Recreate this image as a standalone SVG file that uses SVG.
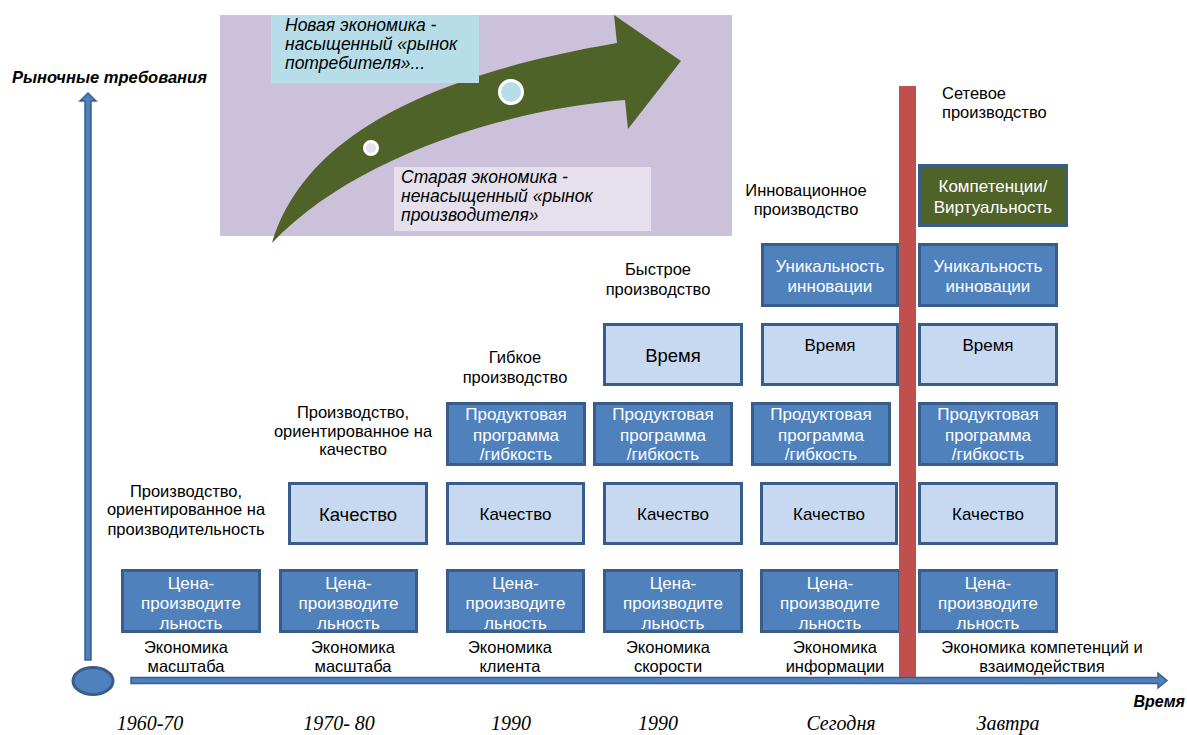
<svg xmlns="http://www.w3.org/2000/svg" width="1187" height="735" viewBox="0 0 1187 735">
<defs>
<style>
.dk{fill:#4f81bd;stroke:#385d8a;stroke-width:3}
.lt{fill:#c6d9f1;stroke:#385d8a;stroke-width:3}
.gr{fill:#4f6228;stroke:#385d8a;stroke-width:3}
text{font-family:"Liberation Sans",Arial,sans-serif}
.w{fill:#fff;font-size:17px;text-anchor:middle}
.b{fill:#000;font-size:17px;text-anchor:middle}
.big{font-size:18.5px}
.l{fill:#000;font-size:16.5px;text-anchor:middle}
.yr{font-family:"Liberation Serif","Times New Roman",serif;font-style:italic;font-size:20px;text-anchor:middle;fill:#000}
.it{font-style:italic;font-size:17.5px;fill:#000}
.ax{fill:#4f81bd;stroke:#385d8a;stroke-width:1.5}
</style>
</defs>
<rect width="1187" height="735" fill="#fff"/>

<g id="economy-panel">
<rect x="220" y="15" width="512" height="221" fill="#ccc1da"/>
<path d="M272,243 C300,150 400,80 617,43 L614,15 L681,61 L628,129 L625,100 C500,110 350,160 272,243 Z" fill="#4f6228"/>
<circle cx="511" cy="92" r="11.5" fill="#b7dde8" stroke="#fff" stroke-width="3"/>
<circle cx="371" cy="148" r="6.5" fill="#e5e0ec" stroke="#fff" stroke-width="3"/>
<rect x="271" y="15" width="208" height="68" fill="#b7dee8"/>
<text class="it" x="285" y="31">Новая экономика -</text>
<text class="it" x="285" y="50">насыщенный «рынок</text>
<text class="it" x="285" y="69">потребителя»...</text>
<rect x="394" y="167" width="257" height="64" fill="#e5e0ec"/>
<text class="it" x="401" y="183">Старая экономика -</text>
<text class="it" x="401" y="202">ненасыщенный «рынок</text>
<text class="it" x="401" y="221">производителя»</text>
</g>

<g id="axis-labels">
<text x="12" y="83" style="font-weight:bold;font-style:italic;font-size:16.5px">Рыночные требования</text>
<text x="1185" y="707" style="font-weight:bold;font-style:italic;font-size:16px;text-anchor:end">Время</text>
</g>

<g id="stage-labels">
<text class="l" x="186" y="497">Производство,</text>
<text class="l" x="186" y="515">ориентированное на</text>
<text class="l" x="186" y="535">производительность</text>
<text class="l" x="353" y="418">Производство,</text>
<text class="l" x="353" y="437">ориентированное на</text>
<text class="l" x="353" y="455">качество</text>
<text class="l" x="515" y="363">Гибкое</text>
<text class="l" x="515" y="383">производство</text>
<text class="l" x="658" y="275">Быстрое</text>
<text class="l" x="658" y="295">производство</text>
<text class="l" x="806" y="196">Инновационное</text>
<text class="l" x="806" y="215">производство</text>
<text class="l" x="942" y="99" style="text-anchor:start">Сетевое</text>
<text class="l" x="942" y="118" style="text-anchor:start">производство</text>
</g>

<g id="col1">
<rect class="dk" x="122.5" y="570.5" width="137" height="61"/>
<text class="w" x="191" y="589">Цена-</text>
<text class="w" x="191" y="609">производите</text>
<text class="w" x="191" y="629">льность</text>
</g>

<g id="col2">
<rect class="lt" x="289.5" y="483.5" width="137" height="60"/>
<text class="b big" x="358" y="521">Качество</text>
<rect class="dk" x="280.5" y="570.5" width="136" height="61"/>
<text class="w" x="348.5" y="589">Цена-</text>
<text class="w" x="348.5" y="609">производите</text>
<text class="w" x="348.5" y="629">льность</text>
</g>

<g id="col3">
<rect class="dk" x="447.5" y="403.5" width="137" height="61"/>
<text class="w" x="516" y="420">Продуктовая</text>
<text class="w" x="516" y="441">программа</text>
<text class="w" x="516" y="460">/гибкость</text>
<rect class="lt" x="447.5" y="483.5" width="136" height="60"/>
<text class="b" x="515.5" y="520">Качество</text>
<rect class="dk" x="447.5" y="570.5" width="136" height="61"/>
<text class="w" x="515.5" y="589">Цена-</text>
<text class="w" x="515.5" y="609">производите</text>
<text class="w" x="515.5" y="629">льность</text>
</g>

<g id="col4">
<rect class="lt" x="604.5" y="324.5" width="137" height="60"/>
<text class="b big" x="673" y="362">Время</text>
<rect class="dk" x="594.5" y="403.5" width="137" height="61"/>
<text class="w" x="663" y="420">Продуктовая</text>
<text class="w" x="663" y="441">программа</text>
<text class="w" x="663" y="460">/гибкость</text>
<rect class="lt" x="604.5" y="483.5" width="137" height="60"/>
<text class="b" x="673" y="520">Качество</text>
<rect class="dk" x="604.5" y="570.5" width="137" height="61"/>
<text class="w" x="673" y="589">Цена-</text>
<text class="w" x="673" y="609">производите</text>
<text class="w" x="673" y="629">льность</text>
</g>

<g id="col5">
<rect class="dk" x="762.5" y="244.5" width="135" height="61"/>
<text class="w" x="830" y="272">Уникальность</text>
<text class="w" x="830" y="292">инновации</text>
<rect class="lt" x="762.5" y="324.5" width="135" height="60"/>
<text class="b" x="830" y="351">Время</text>
<rect class="dk" x="752.5" y="403.5" width="137" height="61"/>
<text class="w" x="821" y="420">Продуктовая</text>
<text class="w" x="821" y="441">программа</text>
<text class="w" x="821" y="460">/гибкость</text>
<rect class="lt" x="761.5" y="483.5" width="135" height="60"/>
<text class="b" x="829" y="520">Качество</text>
<rect class="dk" x="761.5" y="570.5" width="138" height="61"/>
<text class="w" x="830" y="589">Цена-</text>
<text class="w" x="830" y="609">производите</text>
<text class="w" x="830" y="629">льность</text>
</g>

<g id="col6">
<rect class="gr" x="919.5" y="165.5" width="147" height="60"/>
<text class="w" x="993" y="192">Компетенции/</text>
<text class="w" x="993" y="213">Виртуальность</text>
<rect class="dk" x="919.5" y="244.5" width="137" height="61"/>
<text class="w" x="988" y="272">Уникальность</text>
<text class="w" x="988" y="292">инновации</text>
<rect class="lt" x="919.5" y="324.5" width="137" height="60"/>
<text class="b" x="988" y="351">Время</text>
<rect class="dk" x="919.5" y="403.5" width="137" height="61"/>
<text class="w" x="988" y="420">Продуктовая</text>
<text class="w" x="988" y="441">программа</text>
<text class="w" x="988" y="460">/гибкость</text>
<rect class="lt" x="919.5" y="483.5" width="137" height="60"/>
<text class="b" x="988" y="520">Качество</text>
<rect class="dk" x="919.5" y="570.5" width="137" height="61"/>
<text class="w" x="988" y="589">Цена-</text>
<text class="w" x="988" y="609">производите</text>
<text class="w" x="988" y="629">льность</text>
</g>

<g id="today-line">
<rect x="899" y="86" width="17" height="592" fill="#c0504d"/>
</g>

<g id="economy-labels">
<text class="l" x="186" y="653">Экономика</text>
<text class="l" x="186" y="672">масштаба</text>
<text class="l" x="353" y="653">Экономика</text>
<text class="l" x="353" y="672">масштаба</text>
<text class="l" x="510" y="653">Экономика</text>
<text class="l" x="510" y="672">клиента</text>
<text class="l" x="668" y="653">Экономика</text>
<text class="l" x="668" y="672">скорости</text>
<text class="l" x="835" y="653">Экономика</text>
<text class="l" x="835" y="672">информации</text>
<text class="l" x="1042" y="653">Экономика компетенций и</text>
<text class="l" x="1042" y="672">взаимодействия</text>
</g>

<g id="connectors">
<path class="ax" d="M85,660 L85,101 L80,101 L88,93 L96,101 L91,101 L91,660 Z"/>
<path class="ax" d="M131,677.5 L1158,677.5 L1158,673 L1167,680.5 L1158,688 L1158,683.5 L131,683.5 Z"/>
<ellipse cx="93" cy="681" rx="20" ry="13.5" fill="#4f81bd" stroke="#385d8a" stroke-width="3"/>
</g>

<g id="years">
<text class="yr" x="150" y="730">1960-70</text>
<text class="yr" x="339" y="730">1970- 80</text>
<text class="yr" x="511" y="730">1990</text>
<text class="yr" x="658" y="730">1990</text>
<text class="yr" x="841" y="730">Сегодня</text>
<text class="yr" x="1008" y="730">Завтра</text>
</g>
</svg>
